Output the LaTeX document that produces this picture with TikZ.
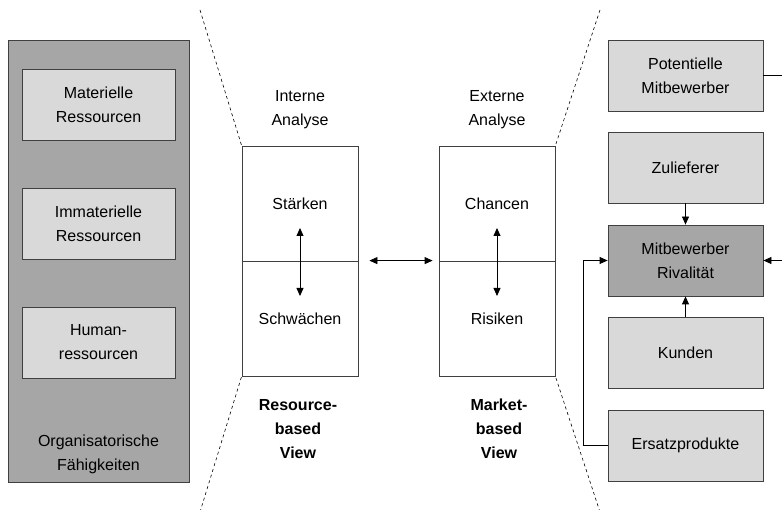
\documentclass[tikz,border=0pt]{standalone}
\usepackage{fontspec}
\setmainfont{Liberation Sans}
\usetikzlibrary{arrows.meta}

\definecolor{boxlight}{HTML}{D9D9D9}
\definecolor{boxdark}{HTML}{A6A6A6}
\definecolor{linegray}{HTML}{404040}

\begin{document}
\begin{tikzpicture}[x=1pt, y=-1pt, >={Triangle[length=8pt,width=7pt]},
  every node/.style={align=center, inner sep=0pt, font=\fontsize{16}{24}\selectfont},
  lightbox/.style={draw=linegray, line width=0.8pt, fill=boxlight, minimum width=153pt, minimum height=71pt},
  darkbox/.style={lightbox, fill=boxdark},
  half/.style={draw=linegray, line width=0.8pt, minimum width=116pt, minimum height=115pt},
  cut/.style={dashed, line width=0.6pt}]
  \useasboundingbox (0,0) rectangle (782,510);

  % left: ressourcen
  \node[draw=linegray, line width=0.8pt, fill=boxdark, minimum width=181pt, minimum height=442pt] (org) at (98.5,261) {};
  \node (mat) [lightbox] at (98.5,104.5) {Materielle\\Ressourcen};
  \node (immat) [lightbox] at (98.5,223.5) {Immaterielle\\Ressourcen};
  \node (human) [lightbox] at (98.5,342.5) {Human-\\ressourcen};
  \node (orgtext) at (98.5,454.5) {Organisatorische\\Fähigkeiten};

  % middle: swot
  \node (intern) at (300,109.5) {Interne\\Analyse};
  \node (extern) at (497,109.5) {Externe\\Analyse};
  \node (staerken) [half] at (300,203.5) {Stärken};
  \node (schwaechen) [half] at (300,318.5) {Schwächen};
  \node (chancen) [half] at (497,203.5) {Chancen};
  \node (risiken) [half] at (497,318.5) {Risiken};
  \node (rbv) at (298,429) {\bfseries Resource-\\\bfseries based\\\bfseries View};
  \node (mbv) at (499,429) {\bfseries Market-\\\bfseries based\\\bfseries View};

  \coordinate (st1) at (300,228);
  \coordinate (st2) at (300,296);
  \coordinate (ch1) at (497,228);
  \coordinate (ch2) at (497,296);
  \draw[<->, line width=0.8pt] (st1) -- (st2);
  \draw[<->, line width=0.8pt] (ch1) -- (ch2);
  \draw[<->, line width=0.8pt, shorten <=11pt, shorten >=6pt] (schwaechen.north east) -- (risiken.north west);

  % cut lines
  \coordinate (lt) at (200,10);
  \coordinate (lb) at (200,512);
  \coordinate (rt) at (600,10);
  \coordinate (rb) at (600,512);
  \draw[cut] (lt) -- (staerken.north west);
  \draw[cut] (lb) -- (schwaechen.south west);
  \draw[cut] (rt) -- (chancen.north east);
  \draw[cut] (rb) -- (risiken.south east);

  % right: five forces
  \node (pot) [lightbox, minimum width=155pt] at (685.5,75.5) {Potentielle\\Mitbewerber};
  \node (zul) [lightbox, minimum width=155pt] at (685.5,167.5) {Zulieferer};
  \node (rival) [darkbox, minimum width=155pt] at (685.5,260.5) {Mitbewerber\\Rivalität};
  \node (kunden) [lightbox, minimum width=155pt] at (685.5,352.5) {Kunden};
  \node (ersatz) [lightbox, minimum width=155pt] at (685.5,445.5) {Ersatzprodukte};

  \coordinate (edge) at (786,260.5);
  \draw[line width=0.8pt] (pot.east) -| (edge);
  \draw[->, line width=0.8pt] (edge) -- (rival.east);
  \draw[->, line width=0.8pt] (zul) -- (rival);
  \draw[->, line width=0.8pt] (kunden) -- (rival);
  \draw[->, line width=0.8pt] (ersatz.west) -- ++(-24,0) |- (rival.west);
\end{tikzpicture}
\end{document}
